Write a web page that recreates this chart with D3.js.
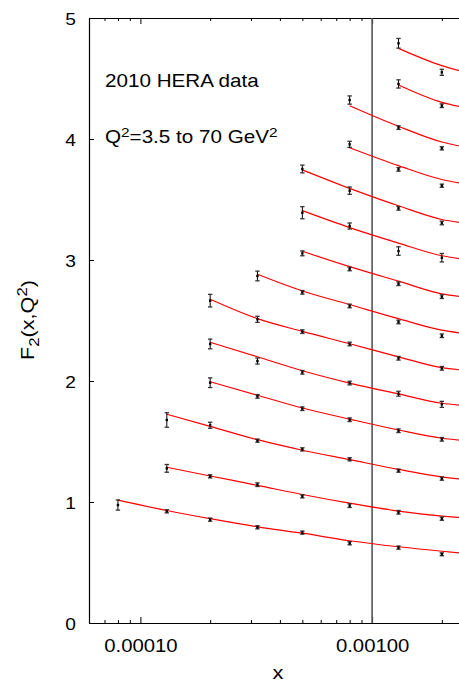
<!DOCTYPE html>
<html><head><meta charset="utf-8">
<script src="https://cdn.jsdelivr.net/npm/d3@7"></script>
<style>
html,body{margin:0;padding:0;background:#fff;}
svg{display:block;font-family:"Liberation Sans",Arial,Helvetica,sans-serif;}
</style></head><body>
<svg id="chart" width="459" height="684"></svg>
<script>
// ---------- data ----------
const xValues = [8e-5, 1.3e-4, 2e-4, 3.2e-4, 5e-4, 8e-4, 1.3e-3, 2e-3];
const fitEndX = 0.0024;
const binFirstIndex = [0, 1, 1, 2, 2, 2, 3, 4, 4, 4, 5, 5, 6, 6];

const f2Bin1  = [0.975, 0.923, 0.854, 0.791, 0.747, 0.659, 0.623, 0.568];
const f2Bin2  = [1.278, 1.212, 1.143, 1.047, 0.970, 0.915, 0.862];
const f2Bin3  = [1.678, 1.634, 1.507, 1.435, 1.353, 1.259, 1.193];
const f2Bin4  = [1.986, 1.873, 1.771, 1.680, 1.589, 1.518];
const f2Bin5  = [2.306, 2.165, 2.072, 1.983, 1.895, 1.807];
const f2Bin6  = [2.664, 2.510, 2.408, 2.306, 2.188, 2.105];
const f2Bin7  = [2.868, 2.733, 2.620, 2.488, 2.374];
const f2Bin8  = [3.055, 2.926, 2.804, 2.697];
const f2Bin9  = [3.391, 3.281, 3.074, 3.019];
const f2Bin10 = [3.752, 3.573, 3.427, 3.306];
const f2Bin11 = [3.956, 3.749, 3.614];
const f2Bin12 = [4.322, 4.094, 3.923];
const f2Bin13 = [4.455, 4.275];
const f2Bin14 = [4.791, 4.551];
const f2Values = [f2Bin1, f2Bin2, f2Bin3, f2Bin4, f2Bin5, f2Bin6, f2Bin7, f2Bin8, f2Bin9, f2Bin10, f2Bin11, f2Bin12, f2Bin13, f2Bin14];

const f2Errors = [
  [0.042, 0.013, 0.013, 0.013, 0.013, 0.013, 0.013, 0.012],
  [0.032, 0.013, 0.015, 0.013, 0.015, 0.015, 0.013],
  [0.06, 0.025, 0.013, 0.013, 0.013, 0.013, 0.013],
  [0.04, 0.015, 0.015, 0.015, 0.015, 0.015],
  [0.04, 0.025, 0.015, 0.015, 0.02, 0.025],
  [0.052, 0.025, 0.015, 0.015, 0.015, 0.015],
  [0.04, 0.015, 0.015, 0.015, 0.015],
  [0.02, 0.015, 0.015, 0.015],
  [0.05, 0.025, 0.035, 0.035],
  [0.032, 0.03, 0.015, 0.015],
  [0.025, 0.015, 0.013],
  [0.034, 0.015, 0.013],
  [0.034, 0.015],
  [0.04, 0.025]
];

// fit curve values at xValues (from first point of bin) and at fitEndX
const fitBin1  = [1.016, 0.93, 0.862, 0.795, 0.742, 0.68, 0.63, 0.593, 0.579];
const fitBin2  = [1.287, 1.215, 1.138, 1.062, 0.99, 0.925, 0.884, 0.872];
const fitBin3  = [1.725, 1.625, 1.515, 1.428, 1.35, 1.27, 1.208, 1.19];
const fitBin4  = [1.994, 1.882, 1.777, 1.685, 1.595, 1.527, 1.511];
const fitBin5  = [2.32, 2.2, 2.085, 1.983, 1.893, 1.816, 1.80];
const fitBin6  = [2.675, 2.515, 2.41, 2.308, 2.2, 2.11, 2.092];
const fitBin7  = [2.882, 2.744, 2.632, 2.515, 2.42, 2.397];
const fitBin8  = [3.072, 2.945, 2.825, 2.72, 2.699];
const fitBin9  = [3.408, 3.268, 3.14, 3.035, 3.01];
const fitBin10 = [3.745, 3.592, 3.448, 3.335, 3.31];
const fitBin11 = [3.928, 3.78, 3.665, 3.635];
const fitBin12 = [4.275, 4.105, 3.975, 3.94];
const fitBin13 = [4.446, 4.303, 4.267];
const fitBin14 = [4.749, 4.606, 4.562];
const fitValues = [fitBin1, fitBin2, fitBin3, fitBin4, fitBin5, fitBin6, fitBin7, fitBin8, fitBin9, fitBin10, fitBin11, fitBin12, fitBin13, fitBin14];

const xMajorTicks = [1e-4, 1e-3];
const xTickLabels = ["0.00010", "0.00100"];
const xMinorTicks = [7e-5, 8e-5, 9e-5, 2e-4, 3e-4, 4e-4, 5e-4, 6e-4, 7e-4, 8e-4, 9e-4, 2e-3];
const yTicks = [0, 1, 2, 3, 4, 5];
const dividerX = 1e-3;

// ---------- drawing ----------
const svg = d3.select("#chart");
const x = d3.scaleLog().domain([6e-5, 2.5e-3]).range([89, 464.3]);
const y = d3.scaleLinear().domain([0, 5]).range([623, 18]);

function styleAxis(g) {
  g.select(".domain").attr("stroke", "#000").attr("stroke-width", 1.2);
  g.selectAll(".tick line").attr("stroke", "#000").attr("stroke-width", 1);
}

// bottom axis
const gB = svg.append("g").attr("transform", `translate(0,${y(0)})`)
  .call(d3.axisBottom(x).tickValues(xMajorTicks).tickFormat((d, i) => xTickLabels[i])
    .tickSizeInner(-6).tickSizeOuter(0).tickPadding(16));
styleAxis(gB);
gB.selectAll(".tick text").attr("font-size", 18).attr("fill", "#000")
  .attr("font-family", '"Liberation Sans",Arial,sans-serif')
  .attr("transform", "scale(1.13,1)");
svg.append("g").attr("transform", `translate(0,${y(0)})`)
  .call(d3.axisBottom(x).tickValues(xMinorTicks).tickFormat("").tickSizeInner(-3).tickSizeOuter(0))
  .call(g => g.select(".domain").remove())
  .call(g => g.selectAll(".tick line").attr("stroke", "#000"));

// top axis
const gT = svg.append("g").attr("transform", `translate(0,${y(5)})`)
  .call(d3.axisTop(x).tickValues(xMajorTicks).tickFormat("").tickSizeInner(-6).tickSizeOuter(0));
styleAxis(gT);
svg.append("g").attr("transform", `translate(0,${y(5)})`)
  .call(d3.axisTop(x).tickValues(xMinorTicks).tickFormat("").tickSizeInner(-3).tickSizeOuter(0))
  .call(g => g.select(".domain").remove())
  .call(g => g.selectAll(".tick line").attr("stroke", "#000"));

// left axis
const gL = svg.append("g").attr("transform", `translate(${x(6e-5)},0)`)
  .call(d3.axisLeft(y).tickValues(yTicks).tickFormat(d3.format("d"))
    .tickSizeInner(-5).tickSizeOuter(0).tickPadding(13));
styleAxis(gL);
gL.selectAll(".tick text").attr("font-size", 17).attr("fill", "#000")
  .attr("font-family", '"Liberation Sans",Arial,sans-serif')
  .attr("x", 0).attr("dy", "0.36em")
  .attr("transform", "translate(-13,0) scale(1.13,1)");

// divider line at x = 0.001
svg.append("line")
  .attr("x1", x(dividerX)).attr("x2", x(dividerX))
  .attr("y1", y(5)).attr("y2", y(0))
  .attr("stroke", "#555").attr("stroke-width", 1.6);

// fit curves
const line = d3.line().x(d => x(d[0])).y(d => y(d[1])).curve(d3.curveMonotoneX);
fitValues.forEach((vals, b) => {
  const xs = xValues.slice(binFirstIndex[b]).concat([fitEndX]);
  const pts = vals.map((v, i) => [xs[i], v]);
  svg.append("path").datum(pts)
    .attr("d", line).attr("fill", "none")
    .attr("stroke", "#ff0000").attr("stroke-width", 1.2);
});

// data points with error bars
const pts = [];
f2Values.forEach((vals, b) => {
  vals.forEach((v, i) => {
    pts.push({ x: xValues[binFirstIndex[b] + i], v: v, e: f2Errors[b][i] });
  });
});
const gp = svg.append("g");
const eb = gp.selectAll("g.eb").data(pts).enter().append("g").attr("class", "eb");
eb.append("line")
  .attr("x1", d => x(d.x)).attr("x2", d => x(d.x))
  .attr("y1", d => y(d.v + d.e)).attr("y2", d => y(d.v - d.e))
  .attr("stroke", "#000").attr("stroke-width", 1);
eb.append("line")
  .attr("x1", d => x(d.x) - 2.2).attr("x2", d => x(d.x) + 2.2)
  .attr("y1", d => y(d.v + d.e)).attr("y2", d => y(d.v + d.e))
  .attr("stroke", "#333").attr("stroke-width", 1.3);
eb.append("line")
  .attr("x1", d => x(d.x) - 2.2).attr("x2", d => x(d.x) + 2.2)
  .attr("y1", d => y(d.v - d.e)).attr("y2", d => y(d.v - d.e))
  .attr("stroke", "#333").attr("stroke-width", 1.3);
eb.append("rect")
  .attr("x", d => x(d.x) - 1.2).attr("y", d => y(d.v) - 1.2)
  .attr("width", 2.4).attr("height", 2.4).attr("fill", "#000");

// annotations
function stretchedText(px, py, size, sx, rot) {
  return svg.append("text")
    .attr("transform", `translate(${px},${py})` + (rot ? ` rotate(${rot})` : "") + ` scale(${sx},1)`)
    .attr("font-size", size).attr("fill", "#000");
}
stretchedText(105, 86.5, 17.5, 1.18).text("2010 HERA data");
const q = stretchedText(105, 143, 17.5, 1.18);
q.append("tspan").text("Q");
q.append("tspan").attr("font-size", 13).attr("dy", -6).text("2");
q.append("tspan").attr("dy", 6).text("=3.5 to 70 GeV");
q.append("tspan").attr("font-size", 13).attr("dy", -6).text("2");

const yl = stretchedText(34, 320, 18, 1.2, -90).attr("text-anchor", "middle");
yl.append("tspan").text("F");
yl.append("tspan").attr("font-size", 14).attr("dy", 5).text("2");
yl.append("tspan").attr("dy", -5).text("(x,Q");
yl.append("tspan").attr("font-size", 14).attr("dy", -7).text("2");
yl.append("tspan").attr("dy", 7).text(")");

stretchedText(278, 679, 19, 1.15).attr("text-anchor", "middle").text("x");
</script>
</body></html>
